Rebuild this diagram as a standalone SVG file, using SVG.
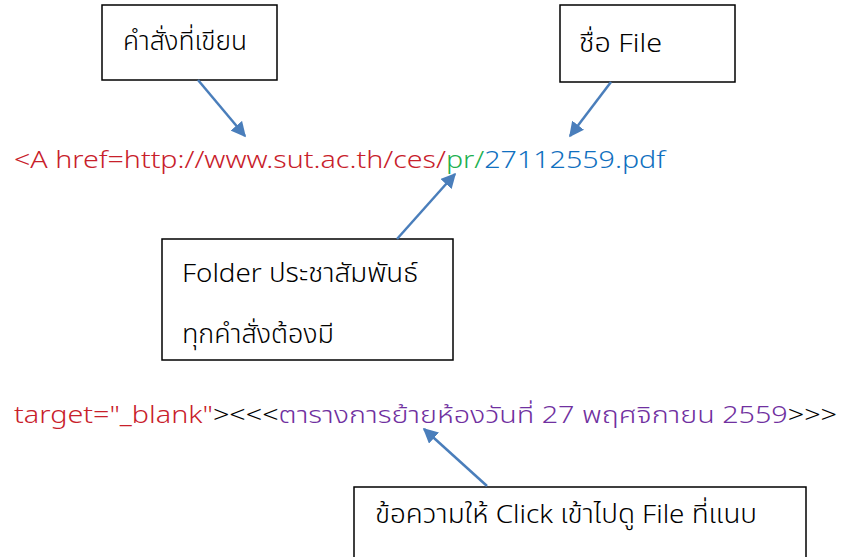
<svg xmlns="http://www.w3.org/2000/svg" width="841" height="557" viewBox="0 0 841 557">
<style>
text{font-family:"Noto Sans","Noto Sans Thai","DejaVu Sans",sans-serif;font-size:23px;font-weight:300;fill:#000}
.bt{font-size:26px}
.box{fill:#fff;stroke:#000;stroke-width:1.5}
.red{fill:#C8202A}.green{fill:#20B050}.blue{fill:#1070C0}.purple{fill:#7030A0}.blk{fill:#000}
.conn line{stroke:#4A7EBB;stroke-width:2.5;marker-end:url(#ah)}
</style>
<defs>
<marker id="ah" viewBox="0 0 10 10" refX="9" refY="5" markerWidth="6" markerHeight="6" markerUnits="strokeWidth" orient="auto">
<path d="M0,0 L10,5 L0,10 z" fill="#4A7EBB"/>
</marker>
</defs>
<rect width="841" height="557" fill="#fff"/>
<g id="n1"><rect class="box" x="102" y="5" width="175" height="75"/><text class="bt" x="123" y="50" textLength="124" lengthAdjust="spacingAndGlyphs">คำสั่งที่เขียน</text></g>
<g id="n2"><rect class="box" x="560" y="5" width="175" height="77"/><text class="bt" x="579" y="52" textLength="83" lengthAdjust="spacingAndGlyphs">ชื่อ File</text></g>
<g id="n3"><rect class="box" x="162" y="239" width="291" height="121"/><text class="bt" x="182" y="282" textLength="236" lengthAdjust="spacingAndGlyphs">Folder ประชาสัมพันธ์</text><text class="bt" x="182" y="343" textLength="152" lengthAdjust="spacingAndGlyphs">ทุกคำสั่งต้องมี</text></g>
<g id="n4"><rect class="box" x="354" y="487" width="452" height="80"/><text class="bt" x="375" y="523" textLength="382" lengthAdjust="spacingAndGlyphs">ข้อความให้ Click เข้าไปดู File ที่แนบ</text></g>
<g id="line1"><text x="14" y="168" textLength="651" lengthAdjust="spacingAndGlyphs"><tspan class="red">&lt;A href=http://www.sut.ac.th/ces/</tspan><tspan class="green">pr/</tspan><tspan class="blue">27112559.pdf</tspan></text></g>
<g id="line2"><text x="14" y="423" textLength="823" lengthAdjust="spacingAndGlyphs"><tspan class="red">target="_blank"</tspan><tspan class="blk">&gt;&lt;&lt;&lt;</tspan><tspan class="purple">ตารางการย้ายห้องวันที่ 27 พฤศจิกายน 2559</tspan><tspan class="blk">&gt;&gt;&gt;</tspan></text></g>
<g id="connectors" class="conn">
<line x1="198" y1="80" x2="245" y2="136"/>
<line x1="611" y1="82" x2="570" y2="136"/>
<line x1="397" y1="239" x2="455" y2="174"/>
<line x1="487" y1="486" x2="424" y2="429"/>
</g>
</svg>
